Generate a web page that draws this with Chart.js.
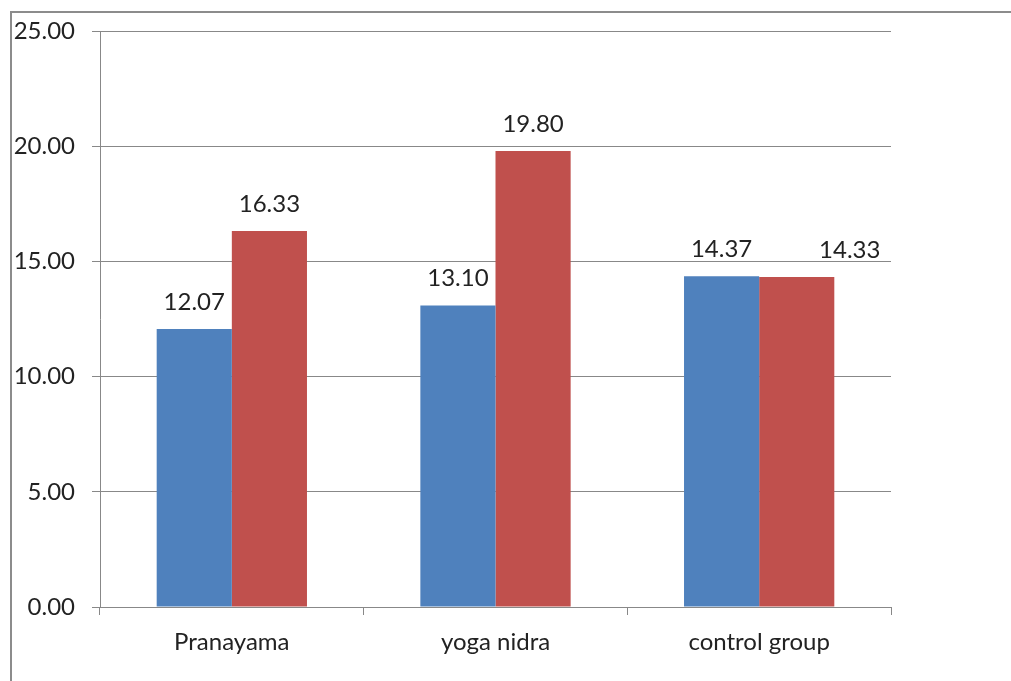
<!DOCTYPE html>
<html lang="en">
<head>
    <meta charset="UTF-8">
    <title>Group scores</title>
    <script src="https://cdn.jsdelivr.net/npm/chart.js"></script>
    <style>
        body { margin: 0; padding: 0; background: #fff; }
        #wrap { position: relative; width: 1011px; height: 681px; }
    </style>
</head>
<body>
<div id="wrap"><canvas id="chart"></canvas></div>
<script>
    // values
    const categories = ['Pranayama', 'yoga nidra', 'control group'];
    const seriesBlue = [12.07, 13.10, 14.37];
    const seriesRed = [16.33, 19.80, 14.33];
    const yTicks = [0, 5, 10, 15, 20, 25];

    const gray = '#888888';
    const font = { family: 'Lato', size: 24 };

    // thin gray frame at top and left, like the cropped source image
    const framePlugin = {
        id: 'frame',
        beforeDraw(chart) {
            const c = chart.ctx;
            c.save();
            c.strokeStyle = '#8c8c8c';
            c.lineWidth = 2;
            c.beginPath();
            c.moveTo(11, 681);
            c.lineTo(11, 12);
            c.lineTo(1011, 12);
            c.stroke();
            c.restore();
        }
    };

    // value labels above each bar
    const labelPlugin = {
        id: 'barLabels',
        afterDatasetsDraw(chart) {
            const c = chart.ctx;
            c.save();
            c.font = font.size + 'px ' + font.family;
            c.fillStyle = '#222';
            c.textAlign = 'center';
            c.textBaseline = 'middle';
            chart.data.datasets.forEach((ds, i) => {
                chart.getDatasetMeta(i).data.forEach((bar, j) => {
                    // the last red label is pushed right in the source so it does not collide
                    const shift = (i === 1 && j === 2) ? 53 : 0;
                    c.fillText(ds.data[j].toFixed(2), bar.x + shift, bar.y - 27);
                });
            });
            c.restore();
        }
    };

    new Chart(document.getElementById('chart'), {
        type: 'bar',
        data: {
            labels: categories,
            datasets: [
                { data: seriesBlue, backgroundColor: '#4F81BD' },
                { data: seriesRed, backgroundColor: '#C0504D' }
            ]
        },
        options: {
            responsive: true,
            maintainAspectRatio: false,
            animation: false,
            events: [],
            categoryPercentage: 0.57,
            barPercentage: 1.0,
            layout: { padding: { top: 28, right: 120, left: 0, bottom: 0 } },
            plugins: {
                legend: { display: false },
                tooltip: { enabled: false }
            },
            scales: {
                x: {
                    afterFit(s) { s.height = 74; },
                    grid: { drawOnChartArea: false, color: gray, tickLength: 8 },
                    border: { color: gray },
                    ticks: { font: font, color: '#222', padding: 13 }
                },
                y: {
                    min: 0,
                    max: 25,
                    afterFit(s) { s.width = 100; },
                    afterBuildTicks(s) { s.ticks = yTicks.map(v => ({ value: v })); },
                    grid: { color: gray, tickLength: 8 },
                    border: { color: gray },
                    ticks: {
                        font: font,
                        color: '#222',
                        padding: 17,
                        callback: v => Number(v).toFixed(2)
                    }
                }
            }
        },
        plugins: [framePlugin, labelPlugin]
    });
</script>
</body>
</html>
